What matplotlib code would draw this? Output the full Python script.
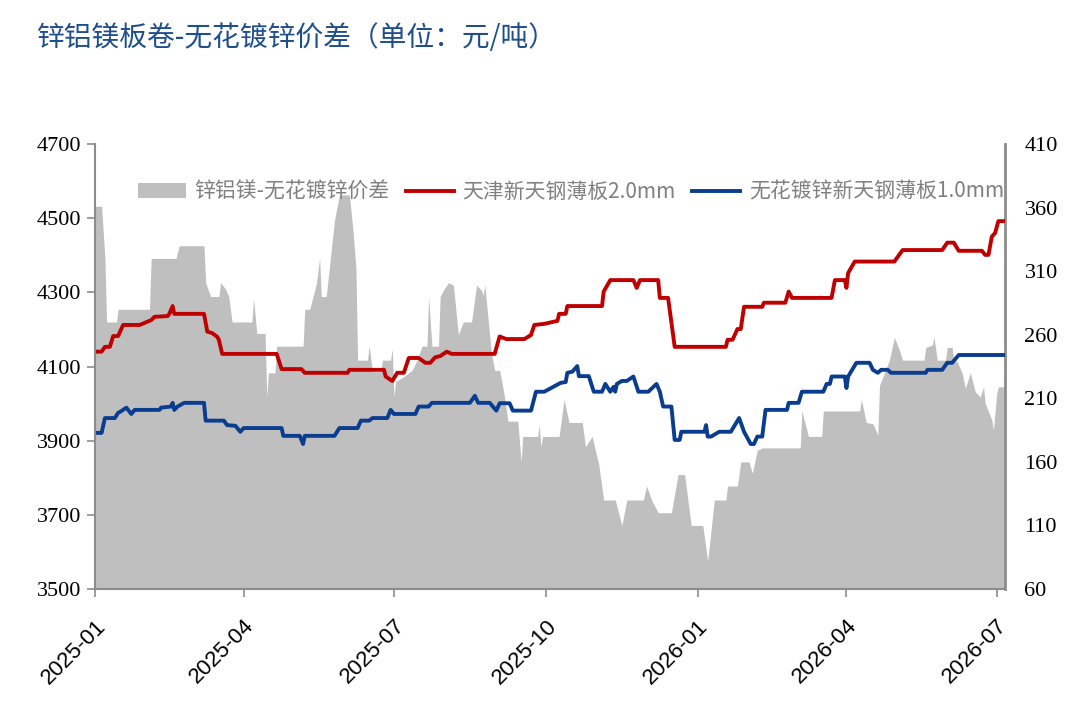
import numpy as np
import pandas as pd
import matplotlib
matplotlib.use("Agg")
import matplotlib.pyplot as plt
import matplotlib.dates as mdates
from matplotlib.patches import Patch
from matplotlib.lines import Line2D

plt.rcParams['font.family'] = ['Noto Sans CJK SC', 'DejaVu Sans']

# 天津新天钢薄板2.0mm (left axis)
red_dates = ["2025-01-01", "2025-01-05", "2025-01-07", "2025-01-10", "2025-01-12", "2025-01-15",
             "2025-01-18", "2025-01-28", "2025-02-04", "2025-02-06", "2025-02-14", "2025-02-15",
             "2025-02-17", "2025-02-18", "2025-03-08", "2025-03-10", "2025-03-13", "2025-03-16",
             "2025-03-17", "2025-03-19", "2025-04-21", "2025-04-24", "2025-05-06", "2025-05-08",
             "2025-06-03", "2025-06-04", "2025-06-25", "2025-06-26", "2025-06-30", "2025-07-03",
             "2025-07-07", "2025-07-10", "2025-07-16", "2025-07-20", "2025-07-23", "2025-07-26",
             "2025-07-29", "2025-08-02", "2025-08-05", "2025-08-31", "2025-09-03", "2025-09-07",
             "2025-09-18", "2025-09-22", "2025-09-24", "2025-09-30", "2025-10-08", "2025-10-09",
             "2025-10-13", "2025-10-14", "2025-11-04", "2025-11-05", "2025-11-09", "2025-11-23",
             "2025-11-25", "2025-11-27", "2025-12-08", "2025-12-09", "2025-12-14", "2025-12-18",
             "2026-01-18", "2026-01-19", "2026-01-22", "2026-01-25", "2026-01-27", "2026-01-29",
             "2026-02-09", "2026-02-10", "2026-02-23", "2026-02-25", "2026-02-27", "2026-03-23",
             "2026-03-25", "2026-03-31", "2026-04-01", "2026-04-02", "2026-04-06", "2026-04-30",
             "2026-05-05", "2026-05-29", "2026-06-01", "2026-06-05", "2026-06-08", "2026-06-22",
             "2026-06-24", "2026-06-26", "2026-06-28", "2026-06-30", "2026-07-02", "2026-07-06"]
red_vals = [4140, 4140, 4153, 4153, 4182, 4182,
            4212, 4212, 4225, 4234, 4236, 4242,
            4263, 4242, 4242, 4194, 4190, 4180,
            4172, 4134, 4134, 4093, 4093, 4083,
            4083, 4091, 4091, 4073, 4061, 4083,
            4083, 4123, 4123, 4110, 4110, 4125,
            4128, 4140, 4134, 4134, 4181, 4174,
            4174, 4185, 4212, 4215, 4223, 4242,
            4242, 4263, 4263, 4302, 4333, 4333,
            4312, 4333, 4333, 4285, 4285, 4153,
            4153, 4172, 4172, 4201, 4201, 4261,
            4261, 4272, 4272, 4302, 4285, 4285,
            4333, 4333, 4312, 4352, 4383, 4383,
            4414, 4414, 4434, 4434, 4412, 4412,
            4401, 4401, 4450, 4460, 4492, 4492]

# 无花镀锌新天钢薄板1.0mm (left axis)
blue_dates = ["2025-01-01", "2025-01-05", "2025-01-07", "2025-01-13", "2025-01-15", "2025-01-17",
              "2025-01-20", "2025-01-23", "2025-01-25", "2025-02-09", "2025-02-10", "2025-02-16",
              "2025-02-17", "2025-02-18", "2025-02-20", "2025-02-24", "2025-03-08", "2025-03-09",
              "2025-03-20", "2025-03-22", "2025-03-27", "2025-03-30", "2025-04-01", "2025-04-24",
              "2025-04-25", "2025-05-05", "2025-05-07", "2025-05-08", "2025-05-26", "2025-05-29",
              "2025-06-09", "2025-06-11", "2025-06-16", "2025-06-18", "2025-06-27", "2025-06-29",
              "2025-07-01", "2025-07-14", "2025-07-16", "2025-07-22", "2025-07-24", "2025-08-16",
              "2025-08-19", "2025-08-21", "2025-08-28", "2025-09-01", "2025-09-03", "2025-09-09",
              "2025-09-11", "2025-09-22", "2025-09-25", "2025-09-30", "2025-10-10", "2025-10-13",
              "2025-10-14", "2025-10-17", "2025-10-20", "2025-10-21", "2025-10-27", "2025-10-30",
              "2025-11-04", "2025-11-06", "2025-11-09", "2025-11-11", "2025-11-12", "2025-11-13",
              "2025-11-16", "2025-11-19", "2025-11-23", "2025-11-26", "2025-12-02", "2025-12-07",
              "2025-12-09", "2025-12-11", "2025-12-16", "2025-12-18", "2025-12-21", "2025-12-22",
              "2026-01-05", "2026-01-06", "2026-01-07", "2026-01-09", "2026-01-14", "2026-01-21",
              "2026-01-26", "2026-01-29", "2026-02-02", "2026-02-04", "2026-02-06", "2026-02-09",
              "2026-02-11", "2026-02-24", "2026-02-25", "2026-03-03", "2026-03-05", "2026-03-18",
              "2026-03-20", "2026-03-22", "2026-03-23", "2026-03-31", "2026-04-01", "2026-04-02",
              "2026-04-07", "2026-04-15", "2026-04-17", "2026-04-20", "2026-04-22", "2026-04-26",
              "2026-04-28", "2026-05-19", "2026-05-20", "2026-05-29", "2026-06-01", "2026-06-04",
              "2026-06-08", "2026-07-06"]
blue_vals = [3921, 3921, 3961, 3961, 3975, 3980,
             3989, 3972, 3983, 3983, 3989, 3992,
             4002, 3983, 3992, 4002, 4002, 3954,
             3954, 3942, 3940, 3924, 3934, 3934,
             3913, 3913, 3891, 3913, 3913, 3934,
             3934, 3954, 3954, 3961, 3961, 3983,
             3972, 3972, 3992, 3992, 4002, 4002,
             4021, 4002, 4002, 3981, 4001, 4001,
             3981, 3981, 4032, 4032, 4056, 4058,
             4083, 4086, 4101, 4074, 4074, 4032,
             4032, 4053, 4032, 4045, 4032, 4053,
             4061, 4061, 4073, 4032, 4032, 4053,
             4032, 3992, 3992, 3902, 3902, 3924,
             3924, 3942, 3911, 3911, 3924, 3924,
             3961, 3924, 3891, 3891, 3911, 3911,
             3983, 3983, 4002, 4002, 4032, 4032,
             4053, 4053, 4073, 4073, 4042, 4073,
             4110, 4110, 4091, 4083, 4091, 4091,
             4083, 4083, 4091, 4091, 4110, 4110,
             4131, 4131]

# 锌铝镁-无花镀锌价差 (right axis)
gap_dates = ["2025-01-01", "2025-01-05", "2025-01-07", "2025-01-08", "2025-01-14", "2025-01-15",
             "2025-02-03", "2025-02-04", "2025-02-19", "2025-02-21", "2025-03-08", "2025-03-09",
             "2025-03-12", "2025-03-17", "2025-03-18", "2025-03-21", "2025-03-23", "2025-03-25",
             "2025-04-06", "2025-04-07", "2025-04-09", "2025-04-14", "2025-04-15", "2025-04-16",
             "2025-04-20", "2025-04-21", "2025-05-07", "2025-05-08", "2025-05-11", "2025-05-13",
             "2025-05-15", "2025-05-17", "2025-05-18", "2025-05-21", "2025-05-26", "2025-05-29",
             "2025-06-04", "2025-06-06", "2025-06-08", "2025-06-09", "2025-06-15", "2025-06-16",
             "2025-06-18", "2025-06-23", "2025-06-24", "2025-06-29", "2025-06-30", "2025-07-01",
             "2025-07-02", "2025-07-07", "2025-07-12", "2025-07-15", "2025-07-18", "2025-07-21",
             "2025-07-22", "2025-07-24", "2025-07-28", "2025-07-29", "2025-07-31", "2025-08-03",
             "2025-08-06", "2025-08-09", "2025-08-12", "2025-08-17", "2025-08-20", "2025-08-23",
             "2025-08-24", "2025-08-25", "2025-08-29", "2025-08-31", "2025-09-03", "2025-09-06",
             "2025-09-08", "2025-09-14", "2025-09-16", "2025-09-17", "2025-09-26", "2025-09-27",
             "2025-09-28", "2025-09-29", "2025-10-09", "2025-10-12", "2025-10-15", "2025-10-23",
             "2025-10-25", "2025-10-29", "2025-11-02", "2025-11-05", "2025-11-12", "2025-11-16",
             "2025-11-19", "2025-11-29", "2025-12-01", "2025-12-04", "2025-12-08", "2025-12-16",
             "2025-12-20", "2025-12-24", "2025-12-28", "2026-01-04", "2026-01-07", "2026-01-11",
             "2026-01-18", "2026-01-19", "2026-01-25", "2026-01-27", "2026-02-01", "2026-02-03",
             "2026-02-06", "2026-02-09", "2026-03-04", "2026-03-05", "2026-03-09", "2026-03-17",
             "2026-03-18", "2026-04-09", "2026-04-10", "2026-04-13", "2026-04-17", "2026-04-20",
             "2026-04-21", "2026-04-27", "2026-04-30", "2026-05-03", "2026-05-05", "2026-05-18",
             "2026-05-19", "2026-05-23", "2026-05-24", "2026-05-26", "2026-05-31", "2026-06-01",
             "2026-06-04", "2026-06-05", "2026-06-07", "2026-06-10", "2026-06-12", "2026-06-15",
             "2026-06-18", "2026-06-21", "2026-06-23", "2026-06-24", "2026-06-28", "2026-06-29",
             "2026-07-01", "2026-07-02", "2026-07-06"]
gap_vals = [361, 361, 320, 270, 270, 280,
            280, 320, 320, 330, 330, 301,
            290, 290, 301, 296, 290, 270,
            270, 288, 261, 261, 211, 230,
            230, 251, 251, 280, 280, 290,
            300, 320, 290, 290, 350, 370,
            370, 345, 312, 240, 240, 251,
            231, 231, 240, 240, 249, 211,
            223, 227, 232, 240, 251, 251,
            290, 251, 251, 290, 295, 301,
            299, 260, 270, 270, 299, 295,
            291, 299, 246, 232, 232, 211,
            192, 192, 160, 180, 180, 189,
            172, 180, 180, 209, 191, 191,
            172, 180, 158, 130, 130, 110,
            130, 130, 141, 130, 120, 120,
            150, 150, 110, 110, 82, 130,
            130, 141, 141, 160, 160, 151,
            169, 171, 171, 200, 180, 180,
            200, 200, 209, 191, 190, 181,
            220, 240, 258, 248, 240, 240,
            250, 252, 258, 240, 240, 250,
            250, 239, 239, 230, 218, 230,
            215, 211, 219, 206, 193, 185,
            214, 219, 219]

left_ticks = [3500, 3700, 3900, 4100, 4300, 4500, 4700]
right_ticks = [60, 110, 160, 210, 260, 310, 360, 410]

red_x = pd.to_datetime(red_dates)
blue_x = pd.to_datetime(blue_dates)
gap_x = pd.to_datetime(gap_dates)

fig = plt.figure(figsize=(10.8, 7.06), dpi=100)
ax = fig.add_axes([95 / 1080, 1 - 589 / 706, 910 / 1080, 445 / 706])
ax2 = ax.twinx()

ax2.fill_between(gap_x, 60, gap_vals, color='#bfbfbf', linewidth=0)
ax.plot(red_x, red_vals, color='#c00000', lw=2.8, solid_joinstyle='round')
ax.plot(blue_x, blue_vals, color='#0a3d8f', lw=2.8, solid_joinstyle='round')

ax.set_zorder(ax2.get_zorder() + 1)
ax.patch.set_visible(False)

ax.set_xlim(pd.Timestamp("2025-01-01"), pd.Timestamp("2026-07-06"))
ax.set_ylim(3500, 4700)
ax2.set_ylim(60, 410)
ax.set_yticks(left_ticks)
ax2.set_yticks(right_ticks)

ax.xaxis.set_major_locator(mdates.MonthLocator(bymonth=[1, 4, 7, 10]))
ax.xaxis.set_major_formatter(mdates.DateFormatter('%Y-%m'))

spine_c = '#8c8c8c'
for a in (ax, ax2):
    a.spines['top'].set_visible(False)
ax.spines['right'].set_visible(False)
ax.spines['left'].set_color(spine_c)
ax.spines['left'].set_linewidth(1.5)
ax.spines['bottom'].set_color(spine_c)
ax.spines['bottom'].set_linewidth(1.5)
ax2.spines['left'].set_visible(False)
ax2.spines['bottom'].set_visible(False)
ax2.spines['right'].set_color(spine_c)
ax2.spines['right'].set_linewidth(2)

ax.tick_params(axis='y', direction='out', length=6, width=1.2, color=spine_c, pad=4)
ax.tick_params(axis='x', direction='out', length=6, width=1.2, color=spine_c, pad=13)
ax2.tick_params(axis='y', length=0, pad=14)

for lbl in ax.get_yticklabels() + ax2.get_yticklabels():
    lbl.set_fontfamily('Liberation Serif')
    lbl.set_fontsize(16)
for lbl in ax.get_xticklabels():
    lbl.set_fontfamily('Liberation Sans')
    lbl.set_fontsize(16)
    lbl.set_rotation(45)
    lbl.set_ha('right')
    lbl.set_va('top')
    lbl.set_rotation_mode('anchor')

fig.text(37 / 1080, 1 - 38 / 706, '锌铝镁板卷-无花镀锌价差（单位：元/吨）',
         color='#1f4e8c', fontsize=20, ha='left', va='center')

handles = [Patch(facecolor='#bfbfbf', edgecolor='none'),
           Line2D([], [], color='#c00000', lw=2.8),
           Line2D([], [], color='#0a3d8f', lw=2.8)]
labels = ['锌铝镁-无花镀锌价差', '天津新天钢薄板2.0mm', '无花镀锌新天钢薄板1.0mm']
fig.legend(handles, labels, loc='center left', bbox_to_anchor=(138 / 1080, 1 - 192 / 706),
           ncol=3, frameon=False, fontsize=15, labelcolor='#808080',
           handlelength=2.3, handletextpad=0.4, columnspacing=0.8, borderpad=0,
           borderaxespad=0)

fig.savefig('out.png', dpi=100)
